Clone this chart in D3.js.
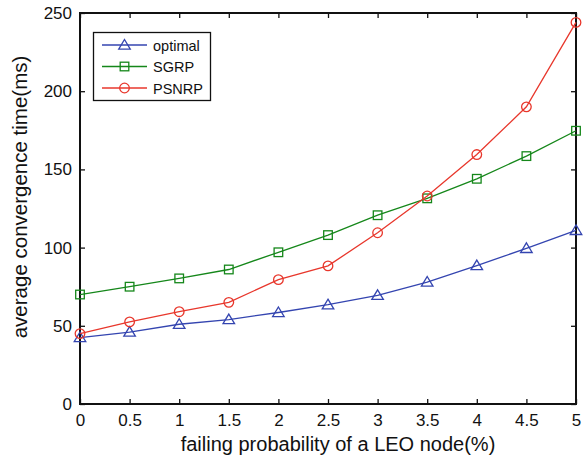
<!DOCTYPE html>
<html>
<head>
<meta charset="utf-8">
<script src="https://cdn.jsdelivr.net/npm/d3@7"></script>
<style>
  html, body { margin: 0; padding: 0; background: #fff; }
  svg { display: block; font-family: "Liberation Sans", Arial, Helvetica, sans-serif; }
</style>
</head>
<body>
<svg id="chart" width="585" height="463"></svg>
<script>
// Failing probability of a LEO node (%)
const probabilities = [0, 0.5, 1, 1.5, 2, 2.5, 3, 3.5, 4, 4.5, 5];

// Average convergence time (ms) per routing scheme
const optimalTimes = [42.5, 46, 51, 54, 58.5, 63.5, 69.5, 78, 88.5, 99.5, 111];
const sgrpTimes    = [70, 75, 80.3, 86, 97, 108, 120.7, 131.5, 144, 158.5, 174.7];
const psnrpTimes   = [45, 52.5, 59, 65, 79.5, 88.3, 109.5, 133, 159.5, 190, 244];

const seriesNames = ["optimal", "SGRP", "PSNRP"];
const xTickValues = [0, 0.5, 1, 1.5, 2, 2.5, 3, 3.5, 4, 4.5, 5];
const yTickValues = [0, 50, 100, 150, 200, 250];

const series = [
  { name: seriesNames[0], values: optimalTimes, color: "#3445b0", marker: "triangle" },
  { name: seriesNames[1], values: sgrpTimes,    color: "#15871a", marker: "square" },
  { name: seriesNames[2], values: psnrpTimes,   color: "#e8372c", marker: "circle" }
];

const svg = d3.select("#chart");
const margin = { left: 80, right: 9, top: 13, bottom: 59 };
const W = 585, H = 463;
const plotW = W - margin.left - margin.right;
const plotH = H - margin.top - margin.bottom;

const x = d3.scaleLinear().domain([0, 5]).range([margin.left, margin.left + plotW]);
const y = d3.scaleLinear().domain([0, 250]).range([margin.top + plotH, margin.top]);

const tickFont = 17;
const titleFont = 20;

// Axes: labelled bottom/left, inward ticks on all four sides
const tickLen = 5;
const xAxis = d3.axisBottom(x).tickValues(xTickValues).tickSize(-tickLen).tickPadding(10)
  .tickFormat(d3.format("~g"));
const yAxis = d3.axisLeft(y).tickValues(yTickValues).tickSize(-tickLen).tickPadding(8)
  .tickFormat(d3.format("~g"));
const xAxisTop = d3.axisTop(x).tickValues(xTickValues).tickSize(-tickLen).tickFormat("");
const yAxisRight = d3.axisRight(y).tickValues(yTickValues).tickSize(-tickLen).tickFormat("");

function styleAxis(g) {
  g.select(".domain").remove();
  g.selectAll(".tick line").attr("stroke", "#111").attr("stroke-width", 1.3);
  g.selectAll(".tick text").attr("fill", "#111").style("font-size", tickFont + "px")
    .style("font-family", '"Liberation Sans", Arial, sans-serif');
}

svg.append("g").attr("transform", `translate(0,${margin.top + plotH})`).call(xAxis).call(styleAxis);
svg.append("g").attr("transform", `translate(${margin.left},0)`).call(yAxis).call(styleAxis);
svg.append("g").attr("transform", `translate(0,${margin.top})`).call(xAxisTop).call(styleAxis);
svg.append("g").attr("transform", `translate(${margin.left + plotW},0)`).call(yAxisRight).call(styleAxis);

// Frame
svg.append("rect")
  .attr("x", margin.left).attr("y", margin.top)
  .attr("width", plotW).attr("height", plotH)
  .attr("fill", "none").attr("stroke", "#111").attr("stroke-width", 2);

// Axis titles
svg.append("text")
  .attr("x", 338).attr("y", 451)
  .attr("text-anchor", "middle").attr("fill", "#111")
  .style("font-size", titleFont + "px")
  .text("failing probability of a LEO node(%)");

svg.append("text")
  .attr("transform", "translate(27,197) rotate(-90)")
  .attr("text-anchor", "middle").attr("fill", "#111")
  .style("font-size", (titleFont + 0.5) + "px")
  .text("average convergence time(ms)");

// Marker drawing helper
function drawMarker(g, type, cx, cy, color) {
  if (type === "triangle") {
    const s = 5.5;
    g.append("path")
      .attr("d", `M${cx},${cy - s} L${cx + s * 1.05},${cy + s * 0.75} L${cx - s * 1.05},${cy + s * 0.75} Z`)
      .attr("fill", "none").attr("stroke", color).attr("stroke-width", 1.3);
  } else if (type === "square") {
    const s = 4.3;
    g.append("rect").attr("x", cx - s).attr("y", cy - s).attr("width", 2 * s).attr("height", 2 * s)
      .attr("fill", "none").attr("stroke", color).attr("stroke-width", 1.3);
  } else {
    g.append("circle").attr("cx", cx).attr("cy", cy).attr("r", 4.8)
      .attr("fill", "none").attr("stroke", color).attr("stroke-width", 1.3);
  }
}

const line = d3.line().x((d, i) => x(probabilities[i])).y(d => y(d));

series.forEach(s => {
  const g = svg.append("g");
  g.append("path").datum(s.values).attr("d", line)
    .attr("fill", "none").attr("stroke", s.color).attr("stroke-width", 1.3);
  s.values.forEach((v, i) => drawMarker(g, s.marker, x(probabilities[i]), y(v), s.color));
});

// Legend
const legend = svg.append("g");
legend.append("rect")
  .attr("x", 93.5).attr("y", 32.5).attr("width", 117).attr("height", 68)
  .attr("fill", "#fff").attr("stroke", "#111").attr("stroke-width", 1.3);
series.forEach((s, i) => {
  const ly = 45 + i * 21.5;
  legend.append("line").attr("x1", 102).attr("x2", 147).attr("y1", ly).attr("y2", ly)
    .attr("stroke", s.color).attr("stroke-width", 1.3);
  drawMarker(legend, s.marker, 124.5, ly, s.color);
  legend.append("text").attr("x", 153).attr("y", ly + 5.5)
    .attr("fill", "#111").style("font-size", "14.5px").text(s.name);
});
</script>
</body>
</html>
